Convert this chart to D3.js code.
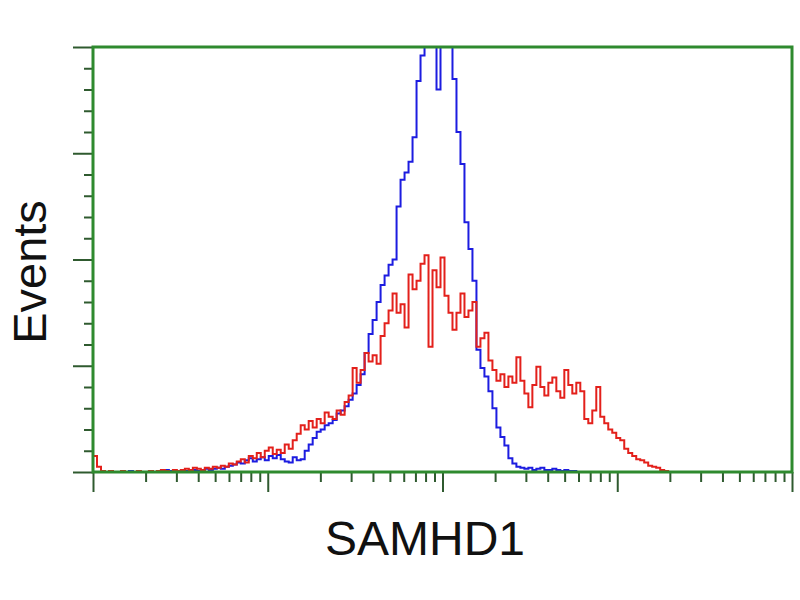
<!DOCTYPE html>
<html>
<head>
<meta charset="utf-8">
<script src="https://cdn.jsdelivr.net/npm/d3@7"></script>
<style>
  body { margin: 0; background: #fff; }
  svg { display: block; }
  .label { font-family: "Liberation Sans", Arial, sans-serif; fill: #111; }
</style>
</head>
<body>
<svg id="chart" width="800" height="600"></svg>
<script>
// histogram counts per channel bin (175 bins over 4 log decades)
const binCount = 175;
const decades = [1, 10, 100, 1000, 10000];
const yMajorTicks = [0, 100, 200, 300, 400];

const blueCounts = [
  0, 0, 0, 0, 1, 0, 0, 0, 0, 1, 0, 0, 0, 0, 1, 0, 1, 0, 2, 1,
  0, 1, 2, 1, 1, 2, 1, 2, 3, 2, 3, 4, 3, 5, 6, 7, 9, 8, 11, 13,
  10, 12, 14, 11, 15, 13, 16, 12, 10, 9, 14, 11, 12, 20, 26, 32, 38, 40, 44, 46,
  49, 55, 58, 62, 68, 74, 82, 92, 112, 130, 143, 160, 176, 185, 195, 200, 250, 275, 282, 292,
  315, 368, 392, 420, 430, 410, 360, 420, 440, 410, 370, 320, 290, 235, 210, 180, 115, 98, 90, 76,
  60, 42, 33, 25, 13, 8, 5, 4, 3, 4, 2, 3, 4, 2, 2, 3, 2, 1, 2, 1,
  1, 0
];

const redCounts = [
  15, 5, 1, 0, 1, 0, 0, 1, 0, 0, 0, 1, 0, 0, 1, 0, 1, 2, 1, 0,
  2, 1, 2, 3, 2, 4, 3, 2, 4, 3, 5, 4, 6, 5, 8, 7, 10, 12, 9, 15,
  13, 18, 14, 20, 23, 17, 21, 18, 26, 22, 30, 36, 44, 40, 48, 42, 50, 46, 56, 52,
  50, 58, 54, 66, 72, 98, 84, 96, 112, 104, 110, 102, 128, 140, 152, 168, 150, 158, 136, 186,
  172, 180, 196, 204, 118, 190, 174, 202, 166, 150, 134, 150, 168, 146, 152, 160, 118, 126, 131, 105,
  96, 86, 92, 80, 90, 84, 108, 86, 74, 61, 82, 99, 80, 72, 84, 89, 76, 70, 96, 82,
  74, 84, 76, 50, 46, 58, 80, 52, 46, 40, 37, 32, 30, 22, 18, 15, 12, 11, 9, 6,
  5, 4, 2, 1, 0
];

const margin = { top: 47, right: 8, bottom: 128, left: 93 };
const width = 800 - margin.left - margin.right;
const height = 600 - margin.top - margin.bottom;

const svg = d3.select('#chart');
const g = svg.append('g').attr('transform', `translate(${margin.left},${margin.top})`);

const x = d3.scaleLog().domain([1, 10000]).range([0, width]);
const y = d3.scaleLinear().domain([0, 400]).range([height, 0]);

// bin edge in data space for bin i
const binEdge = i => Math.pow(10, 4 * i / binCount);

function toPoints(counts) {
  const pts = counts.map((c, i) => ({ x: binEdge(i), c: c }));
  pts.push({ x: binEdge(counts.length), c: 0 });
  return pts;
}

g.append('clipPath').attr('id', 'plot-clip')
  .append('rect').attr('width', width).attr('height', height);

const line = d3.line()
  .x(d => x(d.x))
  .y(d => y(d.c))
  .curve(d3.curveStepAfter);

const plot = g.append('g').attr('clip-path', 'url(#plot-clip)');

plot.append('path')
  .datum(toPoints(blueCounts))
  .attr('fill', 'none')
  .attr('stroke', '#1c1ce0')
  .attr('stroke-width', 2)
  .attr('d', line);

plot.append('path')
  .datum(toPoints(redCounts))
  .attr('fill', 'none')
  .attr('stroke', '#e3201b')
  .attr('stroke-width', 2)
  .attr('d', line);

// ticks
const tickColor = '#2f5a2f';
const xMinor = [];
decades.slice(0, -1).forEach(d => { for (let k = 2; k <= 9; k++) xMinor.push(d * k); });
const yMinor = d3.range(0, 401, 20).filter(v => v % 100 !== 0);

function styleAxis(sel) {
  sel.select('.domain').remove();
  sel.selectAll('.tick line').attr('stroke', tickColor).attr('stroke-width', 2);
  sel.selectAll('.tick text').remove();
}

g.append('g').attr('transform', `translate(0,${height})`)
  .call(d3.axisBottom(x).tickValues(xMinor).tickSize(10)).call(styleAxis);
g.append('g').attr('transform', `translate(0,${height})`)
  .call(d3.axisBottom(x).tickValues(decades).tickSize(20)).call(styleAxis);
g.append('g')
  .call(d3.axisLeft(y).tickValues(yMinor).tickSize(9)).call(styleAxis);
g.append('g')
  .call(d3.axisLeft(y).tickValues(yMajorTicks).tickSize(20)).call(styleAxis);

// green frame
g.append('rect')
  .attr('width', width)
  .attr('height', height)
  .attr('fill', 'none')
  .attr('stroke', '#2e8a2e')
  .attr('stroke-width', 3);

// axis titles
svg.append('text')
  .attr('class', 'label')
  .attr('x', 425)
  .attr('y', 555)
  .attr('text-anchor', 'middle')
  .style('font-size', '48px')
  .text('SAMHD1');

svg.append('text')
  .attr('class', 'label')
  .attr('transform', `translate(46, 272) rotate(-90)`)
  .attr('text-anchor', 'middle')
  .style('font-size', '47px')
  .text('Events');
</script>
</body>
</html>
